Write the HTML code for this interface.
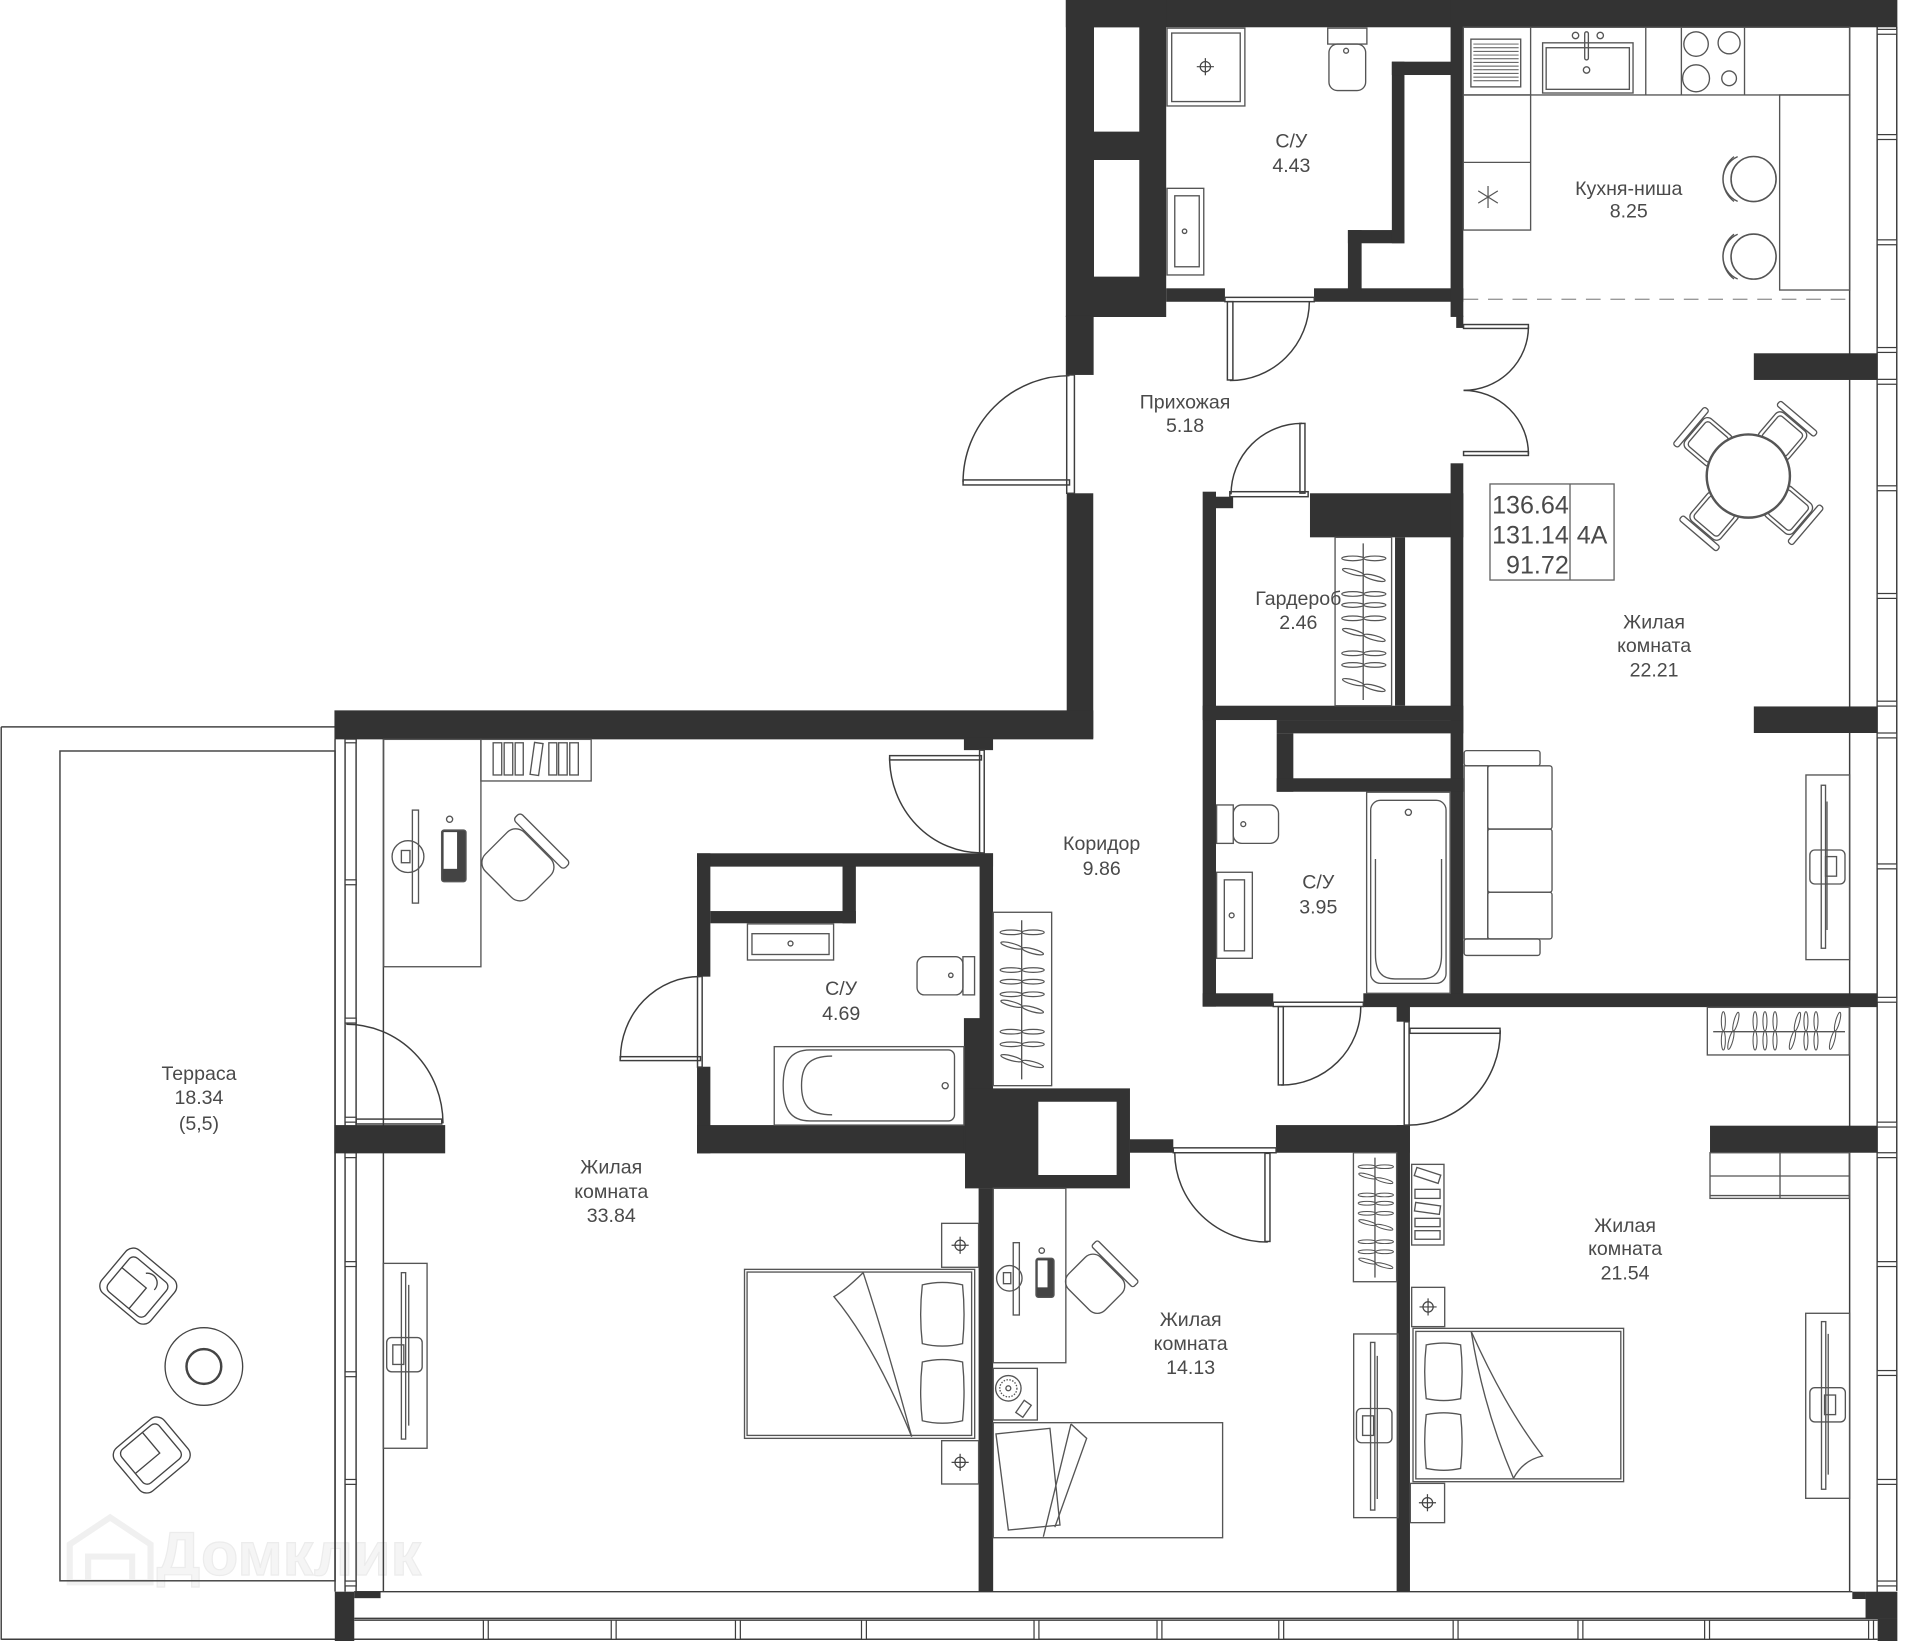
<!DOCTYPE html>
<html><head><meta charset="utf-8">
<style>
html,body{margin:0;padding:0;background:#fff;}
svg{display:block;}
text{font-family:"Liberation Sans",Arial,sans-serif;fill:#4a4a4a;}
</style></head><body>
<svg width="1920" height="1641" viewBox="0 0 1569 1341" preserveAspectRatio="none" xmlns="http://www.w3.org/2000/svg">
<defs>
 <g id="hg" fill="none" stroke="#555" stroke-width="1"><ellipse cx="-9" cy="0" rx="9" ry="1.9"/><ellipse cx="9" cy="0" rx="9" ry="1.9"/></g>
 <g id="chs" fill="none" stroke="#444" stroke-width="1"><circle r="4.2"/><line x1="-7" y1="0" x2="7" y2="0"/><line x1="0" y1="-7" x2="0" y2="7"/></g>
 <g id="dch" fill="none" stroke="#555" stroke-width="1.1">
   <rect x="28" y="-16" width="30" height="32" rx="5" fill="#fff"/>
   <rect x="31" y="-13" width="24" height="26" rx="3"/>
   <rect x="59" y="-20" width="5" height="40" rx="2" fill="#fff"/>
 </g>
</defs>

<!-- watermark -->
<g>
 <path d="M57,1293 V1262 L90,1240 L123,1262 V1293 Z M72,1293 V1272 H108 V1293" fill="none" stroke="#f0f0f0" stroke-width="5"/>
 <text x="128" y="1287" font-size="50" font-weight="bold" style="fill:#f5f5f5" stroke="#ececec" stroke-width="1">Домклик</text>
</g>

<!-- terrace -->
<g fill="none" stroke="#444" stroke-width="1.2">
 <line x1="1" y1="594" x2="1" y2="1340"/>
 <line x1="1" y1="594" x2="274" y2="594"/>
 <rect x="49" y="613.7" width="224.8" height="678.1"/>
</g>
<g fill="none" stroke="#444" stroke-width="1.1">
 <g transform="translate(113,1051) rotate(40)">
  <rect x="-26" y="-23" width="52" height="46" rx="8"/>
  <rect x="-20" y="-17" width="40" height="36" rx="5"/>
  <path d="M-20,-3 H6 V19"/>
  <path d="M-2,-12 a8,8 0 0 1 14,6"/>
 </g>
 <g transform="translate(124,1189) rotate(-40) scale(1,-1)">
  <rect x="-26" y="-23" width="52" height="46" rx="8"/>
  <rect x="-20" y="-17" width="40" height="36" rx="5"/>
  <path d="M-20,-3 H6 V19"/>
 </g>
 <circle cx="166.6" cy="1116.7" r="31.7"/>
 <circle cx="166.6" cy="1116.7" r="14.2" stroke-width="2"/>
</g>

<!-- thin structural lines -->
<g fill="none" stroke="#3d3d3d" stroke-width="1.2">
 <line x1="1511.5" y1="22" x2="1511.5" y2="1300.7"/>
 <line x1="1534" y1="22" x2="1534" y2="1323"/>
 <line x1="1550" y1="22" x2="1550" y2="1300"/>
 <line x1="273.8" y1="604" x2="273.8" y2="1300.7"/>
 <line x1="282" y1="604" x2="282" y2="1300.7"/>
 <line x1="291" y1="604" x2="291" y2="1300.7"/>
 <line x1="313.3" y1="604" x2="313.3" y2="1300.7"/>
 <line x1="289.5" y1="1300.7" x2="1513.7" y2="1300.7"/>
 <line x1="289.5" y1="1322.5" x2="1534.4" y2="1322.5"/>
 <line x1="289.5" y1="1324" x2="1534.4" y2="1324"/>
 <line x1="1" y1="1339.6" x2="1534.4" y2="1339.6"/>
</g>
<g fill="#fff" stroke="#3d3d3d" stroke-width="1">
 <rect x="1534" y="24" width="16" height="4"/>
 <rect x="1534" y="110" width="16" height="4"/>
 <rect x="1534" y="196" width="16" height="4"/>
 <rect x="1534" y="284" width="16" height="4"/>
 <rect x="1534" y="310" width="16" height="4"/>
 <rect x="1534" y="397" width="16" height="4"/>
 <rect x="1534" y="485" width="16" height="4"/>
 <rect x="1534" y="573" width="16" height="4"/>
 <rect x="1534" y="599" width="16" height="4"/>
 <rect x="1534" y="706" width="16" height="4"/>
 <rect x="1534" y="815" width="16" height="4"/>
 <rect x="1534" y="917" width="16" height="4"/>
 <rect x="1534" y="942" width="16" height="4"/>
 <rect x="1534" y="1031" width="16" height="4"/>
 <rect x="1534" y="1120" width="16" height="4"/>
 <rect x="1534" y="1209" width="16" height="4"/>
 <rect x="1534" y="1292" width="16" height="4"/>
 <rect x="282" y="604" width="9" height="3"/>
 <rect x="282" y="719" width="9" height="4"/>
 <rect x="282" y="832" width="9" height="4"/>
 <rect x="282" y="913" width="9" height="4"/>
 <rect x="282" y="942" width="9" height="4"/>
 <rect x="282" y="1031" width="9" height="4"/>
 <rect x="282" y="1121" width="9" height="4"/>
 <rect x="282" y="1209" width="9" height="4"/>
 <rect x="282" y="1292" width="9" height="4"/>
 <rect x="395" y="1324" width="4" height="15.6"/>
 <rect x="499.5" y="1324" width="4" height="15.6"/>
 <rect x="601" y="1324" width="4" height="15.6"/>
 <rect x="704" y="1324" width="4" height="15.6"/>
 <rect x="845" y="1324" width="4" height="15.6"/>
 <rect x="945.5" y="1324" width="4" height="15.6"/>
 <rect x="1045" y="1324" width="4" height="15.6"/>
 <rect x="1187.5" y="1324" width="4" height="15.6"/>
 <rect x="1289.5" y="1324" width="4" height="15.6"/>
 <rect x="1393" y="1324" width="4" height="15.6"/>
 <rect x="1527" y="1324" width="4" height="15.6"/>
</g>

<!-- WALLS -->
<g fill="#333">
 <rect x="871" y="0" width="679.5" height="22.3"/>
 <path fill-rule="evenodd" d="M871,0H953V259H871Z M894,22.3H931V107.6H894Z M894,130.7H931V226.1H894Z"/>
 <rect x="871" y="258" width="22.7" height="48.4"/>
 <rect x="953" y="235.6" width="48" height="11"/>
 <rect x="1073.8" y="235.6" width="122" height="11"/>
 <rect x="1101.5" y="188" width="11.2" height="50"/>
 <rect x="1101.5" y="188" width="46.2" height="10.8"/>
 <rect x="1137.4" y="50.4" width="10.3" height="148.4"/>
 <rect x="1137.4" y="50.4" width="58.2" height="10.9"/>
 <rect x="1185.4" y="0" width="10.4" height="259"/>
 <rect x="1190" y="258" width="5.8" height="10"/>
 <rect x="871.7" y="403.1" width="21.7" height="200.2"/>
 <rect x="273.3" y="580.5" width="620.1" height="23.7"/>
 <rect x="787.7" y="603" width="23.8" height="10"/>
 <rect x="569.6" y="697.3" width="241.9" height="10.9"/>
 <rect x="569.6" y="697.3" width="10.9" height="100.8"/>
 <rect x="569.6" y="871.7" width="10.9" height="70.8"/>
 <rect x="569.6" y="919.4" width="242" height="23.1"/>
 <rect x="800.5" y="697.3" width="11" height="135"/>
 <rect x="787.7" y="832" width="23.8" height="110.5"/>
 <rect x="688.5" y="708" width="10.9" height="46.5"/>
 <rect x="580.5" y="744.5" width="118.9" height="10"/>
 <path fill-rule="evenodd" d="M788.6,889.4H923.4V971.1H788.6Z M848.5,900.3H912.5V960.2H848.5Z"/>
 <rect x="799.7" y="971" width="11.9" height="329.7"/>
 <rect x="923.4" y="931" width="35.4" height="11"/>
 <rect x="1042.7" y="919.4" width="109.5" height="22.6"/>
 <rect x="1141.3" y="919.4" width="10.9" height="381.3"/>
 <rect x="1141.3" y="822.6" width="10.9" height="12.3"/>
 <rect x="982.8" y="401.8" width="10.9" height="420.8"/>
 <rect x="993.7" y="405.9" width="14" height="9.4"/>
 <rect x="1070.5" y="403.1" width="125.3" height="36"/>
 <rect x="1185.4" y="378.6" width="10.4" height="444"/>
 <rect x="1140" y="439.1" width="8.2" height="137.6"/>
 <rect x="982.8" y="576.7" width="213" height="11.7"/>
 <rect x="1043.3" y="588.4" width="152.5" height="10.9"/>
 <rect x="1043.3" y="599.3" width="13.6" height="47.7"/>
 <rect x="1043.3" y="636" width="152.5" height="11"/>
 <rect x="982.8" y="811.7" width="57.7" height="10.9"/>
 <rect x="1114.1" y="811.7" width="420" height="11.3"/>
 <rect x="1433.2" y="288.7" width="100.8" height="21.8"/>
 <rect x="1433.2" y="577.3" width="100.8" height="21.7"/>
 <rect x="1397.4" y="919.9" width="136.6" height="22.1"/>
 <rect x="273.3" y="919.4" width="90.5" height="23.1"/>
 <rect x="273.6" y="1300.7" width="15.9" height="40.3"/>
 <rect x="289.5" y="1300.7" width="21.5" height="5.3"/>
 <rect x="1513.7" y="1300.7" width="10.8" height="6"/>
 <rect x="1524.5" y="1300.7" width="26" height="22.3"/>
 <rect x="1534.4" y="1323" width="16.1" height="18"/>
</g>

<!-- DOORS -->
<g fill="none" stroke="#3d3d3d" stroke-width="1.2">
 <rect x="1001" y="243" width="73" height="3.5" fill="#fff"/>
 <rect x="1003" y="246.5" width="4.5" height="64"/>
 <path d="M1005,311 A65,65 0 0 0 1070,246.5"/>
 <rect x="871.7" y="306.4" width="6.3" height="96.7" fill="#fff"/>
 <rect x="787" y="392.2" width="87" height="4.1"/>
 <path d="M787,394 A87,87 0 0 1 874,307"/>
 <rect x="1196" y="265.2" width="53" height="3.2"/>
 <path d="M1249,267 A53,52 0 0 1 1196,319"/>
 <rect x="1196" y="369" width="53" height="3.2"/>
 <path d="M1249,371 A53,52 0 0 0 1196,319"/>
 <rect x="1005" y="401.8" width="64" height="4.1" fill="#fff"/>
 <rect x="1062.3" y="346" width="4.1" height="57"/>
 <path d="M1064,346 A58,58 0 0 0 1006,404"/>
 <rect x="800.5" y="613" width="3.8" height="84" fill="#fff"/>
 <rect x="727" y="617.5" width="75" height="3.5"/>
 <path d="M727,619 A75,78 0 0 0 802,697"/>
 <rect x="570" y="798" width="3.8" height="74" fill="#fff"/>
 <rect x="506.8" y="863.5" width="65.6" height="3.2"/>
 <path d="M507,865 A65,67 0 0 1 572,798"/>
 <rect x="291" y="914.5" width="70" height="4"/>
 <path d="M283,837 A79,81 0 0 1 362,918"/>
 <rect x="958.8" y="938" width="84" height="4" fill="#fff"/>
 <rect x="1033.7" y="942.5" width="4.1" height="72"/>
 <path d="M960,942 A76,73 0 0 0 1036,1015"/>
 <rect x="1147.5" y="835" width="4" height="84.4" fill="#fff"/>
 <rect x="1152.2" y="840.3" width="73.6" height="4.1"/>
 <path d="M1226,842 A75,77 0 0 1 1151,919.4"/>
 <rect x="1040.5" y="819" width="73.6" height="3.5" fill="#fff"/>
 <rect x="1044.6" y="822.6" width="4.1" height="64"/>
 <path d="M1047,886.7 A65,64 0 0 0 1112,822.6"/>
</g>

<!-- KITCHEN -->
<g fill="none" stroke="#555" stroke-width="1.1">
 <rect x="1195.8" y="22.3" width="315.7" height="55.3"/>
 <line x1="1250.8" y1="22.3" x2="1250.8" y2="77.6"/>
 <line x1="1344.9" y1="22.3" x2="1344.9" y2="77.6"/>
 <line x1="1374" y1="22.3" x2="1374" y2="77.6"/>
 <line x1="1425.6" y1="22.3" x2="1425.6" y2="77.6"/>
 <rect x="1195.8" y="77.6" width="55" height="110.4"/>
 <line x1="1195.8" y1="132.7" x2="1250.8" y2="132.7"/>
 <rect x="1454.3" y="77.6" width="57.2" height="159.4"/>
 <rect x="1202" y="32" width="40.7" height="39"/>
 <path d="M1204,36H1241 M1204,39H1241 M1204,42H1241 M1204,45H1241 M1204,48H1241 M1204,51H1241 M1204,54H1241 M1204,57H1241 M1204,60H1241 M1204,63H1241 M1204,66H1241" stroke-width="0.8"/>
 <rect x="1260.6" y="35" width="73.9" height="41"/>
 <rect x="1263.5" y="39" width="68" height="34"/>
 <circle cx="1287.5" cy="29" r="2.6"/>
 <circle cx="1307.7" cy="29" r="2.6"/>
 <rect x="1295" y="26" width="3" height="23" rx="1.5"/>
 <circle cx="1296.5" cy="57.2" r="2.6"/>
 <circle cx="1386" cy="36" r="10"/>
 <circle cx="1413" cy="35" r="9"/>
 <circle cx="1386" cy="64" r="11"/>
 <circle cx="1413" cy="64" r="6"/>
 <path d="M1216,152V170 M1208,156L1224,166 M1208,166L1224,156" stroke-width="1"/>
 <circle cx="1433" cy="146.3" r="18.4" stroke-width="1.3"/>
 <circle cx="1433" cy="209.7" r="18.4" stroke-width="1.3"/>
 <path d="M1417,128 A23,23 0 0 0 1417,164.6 M1420,128 A20,20 0 0 0 1420,164.6"/>
 <path d="M1417,191.4 A23,23 0 0 0 1417,228 M1420,191.4 A20,20 0 0 0 1420,228"/>
 <line x1="1196" y1="244.6" x2="1511.5" y2="244.6" stroke="#999" stroke-dasharray="12,8"/>
</g>

<!-- SU 4.43 fixtures -->
<g fill="none" stroke="#555" stroke-width="1.1">
 <rect x="953.7" y="23" width="63.6" height="63.6"/>
 <rect x="957.5" y="27" width="56" height="56"/>
 <use href="#chs" x="985" y="54.5"/>
 <rect x="1085" y="23" width="32" height="13"/>
 <rect x="1086" y="36" width="30" height="38" rx="7"/>
 <circle cx="1100" cy="41.5" r="2"/>
 <rect x="953.7" y="153.9" width="30" height="70.8"/>
 <rect x="960" y="160" width="20" height="58"/>
 <circle cx="968" cy="189" r="1.8"/>
</g>

<!-- SU 4.69 fixtures -->
<g fill="none" stroke="#555" stroke-width="1.1">
 <rect x="610.8" y="755" width="70.4" height="29.5"/>
 <rect x="614.5" y="763" width="63" height="17"/>
 <circle cx="646" cy="771" r="2"/>
 <rect x="749.4" y="781.8" width="37.5" height="31.2" rx="6"/>
 <rect x="786.9" y="781.8" width="9.5" height="31.2"/>
 <circle cx="777" cy="797" r="1.8"/>
 <rect x="632.7" y="855.3" width="155" height="64.1"/>
 <path d="M662,858 H775 a5,5 0 0 1 5,5 V911 a5,5 0 0 1 -5,5 H662 C645,916 640,905 640,887 C640,869 645,858 662,858 Z"/>
 <path d="M680,863 C660,863 655,872 655,887 C655,902 660,911 680,911"/>
 <circle cx="772.4" cy="887.2" r="2.5"/>
</g>

<!-- SU 3.95 fixtures -->
<g fill="none" stroke="#555" stroke-width="1.1">
 <rect x="994.2" y="657.8" width="13.6" height="31.4"/>
 <rect x="1007.8" y="657.8" width="37" height="31.4" rx="7"/>
 <circle cx="1016" cy="673.5" r="2"/>
 <rect x="994.2" y="712.8" width="29.2" height="70.3"/>
 <rect x="1000.5" y="719" width="16.5" height="58"/>
 <circle cx="1006.5" cy="748" r="2"/>
 <rect x="1116.8" y="647.4" width="68.2" height="164.3"/>
 <rect x="1120.1" y="654" width="61.6" height="149.6" rx="8"/>
 <path d="M1124,702 V780 C1124,795 1130,800 1140,800 H1162 C1172,800 1178,795 1178,780 V702"/>
 <circle cx="1150.9" cy="663.8" r="2.5"/>
</g>

<!-- HANGER RACKS -->
<g fill="none" stroke="#555" stroke-width="1.1">
 <rect x="1091" y="439.1" width="46.2" height="137.6"/>
 <line x1="1114" y1="444" x2="1114" y2="572"/>
 <rect x="811.7" y="745.5" width="47.7" height="141.7"/>
 <line x1="834.9" y1="752" x2="834.9" y2="882"/>
 <rect x="1106" y="942" width="35.3" height="105.4"/>
 <line x1="1123.6" y1="946" x2="1123.6" y2="1044"/>
 <rect x="1395.2" y="823.2" width="116" height="38.9"/>
 <line x1="1400" y1="843.1" x2="1507.7" y2="843.1"/>
</g>
<g>
 <use href="#hg" transform="translate(1114.5,456.3)"/>
 <use href="#hg" transform="translate(1114.5,469.9) rotate(15)"/>
 <use href="#hg" transform="translate(1114.5,485.4)"/>
 <use href="#hg" transform="translate(1114.5,494.4)"/>
 <use href="#hg" transform="translate(1114.5,505.3)"/>
 <use href="#hg" transform="translate(1114.5,518.9) rotate(15)"/>
 <use href="#hg" transform="translate(1114.5,533.9)"/>
 <use href="#hg" transform="translate(1114.5,543.4)"/>
 <use href="#hg" transform="translate(1114.5,559.8) rotate(15)"/>

 <use href="#hg" transform="translate(835.3,761.9)"/>
 <use href="#hg" transform="translate(835.3,775) rotate(15)"/>
 <use href="#hg" transform="translate(835.3,792.7)"/>
 <use href="#hg" transform="translate(835.3,802.2)"/>
 <use href="#hg" transform="translate(835.3,812.5)"/>
 <use href="#hg" transform="translate(835.3,822.6) rotate(15)"/>
 <use href="#hg" transform="translate(835.3,843.1)"/>
 <use href="#hg" transform="translate(835.3,853.4)"/>
 <use href="#hg" transform="translate(835.3,867.1) rotate(15)"/>

 <use href="#hg" transform="translate(1124.3,953.4) scale(0.8)"/>
 <use href="#hg" transform="translate(1124.3,962.9) rotate(15) scale(0.8)"/>
 <use href="#hg" transform="translate(1124.3,976.5) scale(0.8)"/>
 <use href="#hg" transform="translate(1124.3,983.3) scale(0.8)"/>
 <use href="#hg" transform="translate(1124.3,991.5) scale(0.8)"/>
 <use href="#hg" transform="translate(1124.3,1001) rotate(15) scale(0.8)"/>
 <use href="#hg" transform="translate(1124.3,1014.7) scale(0.8)"/>
 <use href="#hg" transform="translate(1124.3,1022.9) scale(0.8)"/>
 <use href="#hg" transform="translate(1124.3,1032.4) rotate(15) scale(0.8)"/>

 <use href="#hg" transform="translate(1408.3,842.4) rotate(90) scale(0.87)"/>
 <use href="#hg" transform="translate(1416.5,842.4) rotate(105) scale(0.87)"/>
 <use href="#hg" transform="translate(1434.2,842.4) rotate(90) scale(0.87)"/>
 <use href="#hg" transform="translate(1442.3,842.4) rotate(90) scale(0.87)"/>
 <use href="#hg" transform="translate(1450.5,842.4) rotate(90) scale(0.87)"/>
 <use href="#hg" transform="translate(1466.8,842.4) rotate(105) scale(0.87)"/>
 <use href="#hg" transform="translate(1475.8,842.4) rotate(90) scale(0.87)"/>
 <use href="#hg" transform="translate(1484,842.4) rotate(90) scale(0.87)"/>
 <use href="#hg" transform="translate(1499.6,842.4) rotate(105) scale(0.87)"/>
</g>

<!-- LIVING 22.21 -->
<g fill="none" stroke="#555" stroke-width="1.1">
 <rect x="1196.5" y="613.4" width="62" height="12.4" rx="2"/>
 <rect x="1196.5" y="767.3" width="62" height="13.5" rx="2"/>
 <rect x="1196.5" y="625.8" width="19.3" height="141.5"/>
 <rect x="1215.8" y="625.8" width="52.5" height="51.7" rx="2"/>
 <rect x="1215.8" y="677.5" width="52.5" height="51.6" rx="2"/>
 <rect x="1215.8" y="729.1" width="52.5" height="38.2" rx="2"/>
 <rect x="1475.8" y="633.3" width="35.7" height="150.9"/>
 <rect x="1488.3" y="641.7" width="3.5" height="133.2"/>
 <line x1="1493" y1="655" x2="1493" y2="760"/>
 <rect x="1479" y="694.6" width="28.7" height="27.8" rx="4"/>
 <rect x="1491.8" y="700" width="9" height="16"/>
 <rect x="1217.6" y="395.5" width="101.4" height="78.5" stroke="#666"/>
 <line x1="1283" y1="395.5" x2="1283" y2="474" stroke="#666"/>
</g>
<g>
 <use href="#dch" transform="translate(1428.7,389) rotate(-139.6)"/>
 <use href="#dch" transform="translate(1428.7,389) rotate(-49.6)"/>
 <use href="#dch" transform="translate(1428.7,389) rotate(40.4)"/>
 <use href="#dch" transform="translate(1428.7,389) rotate(130.4)"/>
 <circle cx="1428.7" cy="389" r="34" fill="#fff" stroke="#555" stroke-width="2"/>
</g>

<!-- ROOM 33.84 furniture -->
<g fill="none" stroke="#555" stroke-width="1.1">
 <rect x="313.5" y="604.2" width="79.5" height="185.8"/>
 <rect x="393" y="604.2" width="90.1" height="34"/>
 <rect x="403" y="607" width="7" height="26.3"/>
 <rect x="412" y="607" width="7" height="26.3"/>
 <rect x="421" y="607" width="6.6" height="26.3"/>
 <rect x="435" y="607" width="7" height="26.3" transform="rotate(8 438 620)"/>
 <rect x="448.5" y="607" width="6.5" height="26.3"/>
 <rect x="456.5" y="607" width="7" height="26.3"/>
 <rect x="465.6" y="607" width="7" height="26.3"/>
 <rect x="337" y="662" width="5" height="76"/>
 <circle cx="333.4" cy="700" r="13"/>
 <rect x="328" y="695" width="7" height="10"/>
 <rect x="360.9" y="678.3" width="19.9" height="42.2" rx="2" fill="#444"/>
 <rect x="362.5" y="680" width="11" height="30" fill="#fff" stroke="none"/>
 <circle cx="367.4" cy="669.5" r="2.5"/>
 <g transform="translate(425,705) rotate(-45)">
  <rect x="-25" y="-25" width="45" height="50" rx="10"/>
  <rect x="21" y="-29" width="8" height="58" rx="3"/>
 </g>
 <rect x="313.2" y="1032.4" width="35.8" height="151.1"/>
 <rect x="328" y="1040" width="3.5" height="136"/>
 <line x1="334" y1="1050" x2="334" y2="1165"/>
 <rect x="316" y="1093" width="29" height="28" rx="4"/>
 <rect x="321" y="1099" width="9" height="16"/>
 <rect x="608.4" y="1037.3" width="188.1" height="138.1"/>
 <rect x="610.5" y="1039.5" width="183.5" height="133.5"/>
 <path d="M753.7,1050 Q770,1046 786.6,1050 Q789,1074 786.6,1098 Q770,1102 753.7,1098 Q751,1074 753.7,1050 Z"/>
 <path d="M753.7,1113 Q770,1109 786.6,1113 Q789,1137 786.6,1161 Q770,1165 753.7,1161 Q751,1137 753.7,1113 Z"/>
 <path d="M705.4,1040 Q725,1100 745,1174"/>
 <path d="M705.4,1040 Q690,1055 681.5,1059.6 Q715,1100 745,1174"/>
 <rect x="769.5" y="999.7" width="30.2" height="35.9"/>
 <use href="#chs" transform="translate(784.6,1017.6)"/>
 <rect x="769.5" y="1177.3" width="30.2" height="35.4"/>
 <use href="#chs" transform="translate(784.6,1195)"/>
</g>

<!-- ROOM 14.13 furniture -->
<g fill="none" stroke="#555" stroke-width="1.1">
 <rect x="811.7" y="971.1" width="59.3" height="142.5"/>
 <rect x="828" y="1015.5" width="5" height="59.1"/>
 <circle cx="824.8" cy="1044.6" r="10.4"/>
 <rect x="820" y="1040" width="6" height="9"/>
 <rect x="846.6" y="1028.3" width="14.7" height="31.9" rx="2" fill="#444"/>
 <rect x="848" y="1030" width="8" height="22" fill="#fff" stroke="none"/>
 <circle cx="851.3" cy="1022" r="2.2"/>
 <g transform="translate(896,1048) rotate(-45)">
  <rect x="-20" y="-21" width="37" height="42" rx="9"/>
  <rect x="18" y="-24" width="7" height="48" rx="2"/>
 </g>
 <rect x="811.7" y="1118.2" width="36" height="42.2"/>
 <circle cx="824" cy="1134.5" r="10.4"/>
 <circle cx="824" cy="1134.5" r="7" stroke-dasharray="1.2,1.2"/>
 <circle cx="824" cy="1134.5" r="2"/>
 <rect x="833" y="1145" width="7" height="12" transform="rotate(35 836 1151)"/>
 <rect x="811.7" y="1162.6" width="187.4" height="94"/>
 <path d="M813.9,1171.8 L858,1167.2 L866.2,1246.2 L824,1250.3 Z"/>
 <path d="M875.2,1163.7 L888,1175.4 L862,1248 M875.2,1163.7 L852.6,1255.8"/>
 <rect x="1106.2" y="1090.1" width="36.3" height="150.1"/>
 <rect x="1120" y="1097" width="3.5" height="137"/>
 <line x1="1125.5" y1="1108" x2="1125.5" y2="1225"/>
 <rect x="1108.5" y="1151" width="29" height="28" rx="4"/>
 <rect x="1113.5" y="1157" width="9" height="16"/>
</g>

<!-- ROOM 21.54 furniture -->
<g fill="none" stroke="#555" stroke-width="1.1">
 <rect x="1397.4" y="942" width="113.8" height="37.3"/>
 <line x1="1454.6" y1="942" x2="1454.6" y2="979.3"/>
 <line x1="1397.4" y1="961" x2="1511.2" y2="961"/>
 <line x1="1397.4" y1="977" x2="1511.2" y2="977"/>
 <rect x="1153.6" y="951.5" width="26.4" height="65.9"/>
 <rect x="1156.3" y="957" width="20.5" height="7" transform="rotate(18 1166.5 960.5)"/>
 <rect x="1156.3" y="971.9" width="20.5" height="7.4"/>
 <rect x="1156.3" y="984" width="20.5" height="7" transform="rotate(8 1166.5 987.5)"/>
 <rect x="1156.3" y="995.6" width="20.5" height="6.8"/>
 <rect x="1156.3" y="1005.7" width="20.5" height="7"/>
 <rect x="1153.6" y="1052" width="27" height="32.1"/>
 <use href="#chs" transform="translate(1167,1068)"/>
 <rect x="1152.5" y="1212.2" width="28" height="32.1"/>
 <use href="#chs" transform="translate(1166.5,1228)"/>
 <rect x="1154.7" y="1085.5" width="172.1" height="125.3"/>
 <rect x="1157" y="1088" width="167.5" height="120.5"/>
 <path d="M1165.5,1099 Q1180,1096 1193.6,1099 Q1196,1121 1193.6,1143 Q1180,1146 1165.5,1143 Q1163,1121 1165.5,1099 Z"/>
 <path d="M1165.5,1156 Q1180,1153 1193.6,1156 Q1196,1178 1193.6,1200 Q1180,1203 1165.5,1200 Q1163,1178 1165.5,1156 Z"/>
 <path d="M1202.3,1088.2 Q1212,1150 1236.8,1208"/>
 <path d="M1202.3,1088.2 Q1230,1150 1260.6,1189.8 Q1245,1193 1236.8,1208"/>
 <rect x="1475.6" y="1073.2" width="35.9" height="151.2"/>
 <rect x="1488.5" y="1080" width="3.5" height="137"/>
 <line x1="1494" y1="1090" x2="1494" y2="1205"/>
 <rect x="1479" y="1134" width="29" height="28" rx="4"/>
 <rect x="1491" y="1140" width="9" height="16"/>
</g>

<!-- LABELS -->
<g font-size="16" text-anchor="middle">
 <text x="1055.3" y="120.6">С/У</text>
 <text x="1055.3" y="140.4">4.43</text>
 <text x="1331" y="159.4">Кухня-ниша</text>
 <text x="1331" y="177.6">8.25</text>
 <text x="968.4" y="333.8">Прихожая</text>
 <text x="968.4" y="352.9">5.18</text>
 <text x="1061" y="494.6">Гардероб</text>
 <text x="1061" y="514.1">2.46</text>
 <text x="1351.7" y="513.6">Жилая</text>
 <text x="1351.7" y="532.9">комната</text>
 <text x="1351.7" y="553">22.21</text>
 <text x="900.3" y="694.8">Коридор</text>
 <text x="900.3" y="715.2">9.86</text>
 <text x="1077.3" y="726.1">С/У</text>
 <text x="1077.3" y="746.5">3.95</text>
 <text x="687.4" y="813.2">С/У</text>
 <text x="687.4" y="833.6">4.69</text>
 <text x="162.6" y="882.5">Терраса</text>
 <text x="162.6" y="902.1">18.34</text>
 <text x="162.6" y="923.3">(5,5)</text>
 <text x="499.5" y="959">Жилая</text>
 <text x="499.5" y="979">комната</text>
 <text x="499.5" y="998.5">33.84</text>
 <text x="1328" y="1006.6">Жилая</text>
 <text x="1328" y="1025.7">комната</text>
 <text x="1328" y="1045.6">21.54</text>
 <text x="973" y="1083.7">Жилая</text>
 <text x="973" y="1103.4">комната</text>
 <text x="973" y="1123">14.13</text>
</g>
<g font-size="20.5">
 <text x="1282" y="419.5" text-anchor="end">136.64</text>
 <text x="1282" y="444" text-anchor="end">131.14</text>
 <text x="1282" y="468.5" text-anchor="end">91.72</text>
 <text x="1301" y="444" text-anchor="middle">4A</text>
</g>
</svg>
</body></html>
